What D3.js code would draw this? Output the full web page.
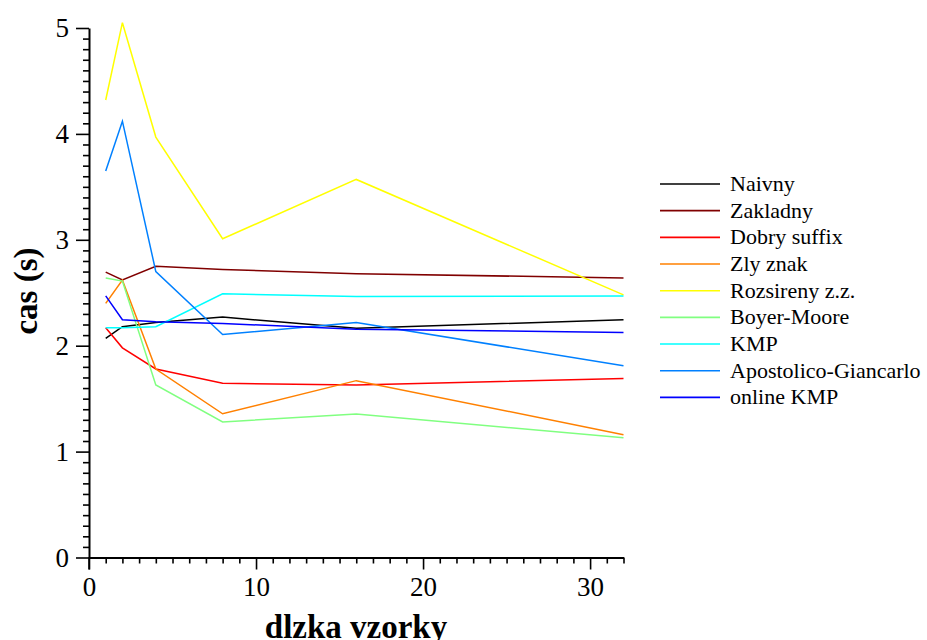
<!DOCTYPE html>
<html>
<head>
<meta charset="utf-8">
<script src="https://cdn.jsdelivr.net/npm/d3@7"></script>
<style>
  html, body { margin: 0; padding: 0; background: #fff; }
  svg { display: block; }
  svg text { font-family: 'Liberation Serif', 'Times New Roman', Times, 'DejaVu Serif', serif !important; fill: #000; }
</style>
</head>
<body>
<svg id="chart" width="927" height="640"></svg>
<script>
// Pattern lengths (x) and search time in seconds for each algorithm
const patternLengths = [1, 2, 4, 8, 16, 32];

const seriesNames = [
  "Naivny", "Zakladny", "Dobry suffix", "Zly znak", "Rozsireny z.z.",
  "Boyer-Moore", "KMP", "Apostolico-Giancarlo", "online KMP"
];
const seriesColors = [
  "#000000", "#800000", "#ff0000", "#ff8000", "#ffff00",
  "#80ff80", "#00ffff", "#0080ff", "#0000ff"
];

const naivny      = [2.07, 2.18, 2.22, 2.27, 2.165, 2.245];
const zakladny    = [2.695, 2.62, 2.75, 2.72, 2.68, 2.64];
const dobrySuffix = [2.17, 1.98, 1.78, 1.645, 1.63, 1.69];
const zlyZnak     = [2.40, 2.62, 1.78, 1.357, 1.67, 1.16];
const rozsireny   = [4.32, 5.05, 3.97, 3.01, 3.57, 2.48];
const boyerMoore  = [2.64, 2.61, 1.63, 1.28, 1.355, 1.13];
const kmp         = [2.17, 2.17, 2.18, 2.49, 2.465, 2.47];
const apostolico  = [3.65, 4.12, 2.70, 2.105, 2.22, 1.81];
const onlineKmp   = [2.47, 2.245, 2.225, 2.21, 2.155, 2.125];

const seriesValues = [naivny, zakladny, dobrySuffix, zlyZnak, rozsireny,
                      boyerMoore, kmp, apostolico, onlineKmp];

const xMajorTicks = [0, 10, 20, 30];
const yMajorTicks = [0, 1, 2, 3, 4, 5];

const xTitle = "dlzka vzorky";
const yTitle = "cas (s)";

const svg = d3.select("#chart");

const x = d3.scaleLinear().domain([0, 32]).range([89, 623.5]);
const y = d3.scaleLinear().domain([0, 5]).range([557.5, 28]);

// Minor ticks: every 1 on x, every 0.1 on y
const xMinor = d3.range(0, 33, 1).filter(v => v % 10 !== 0);
const yMinor = d3.range(0, 51, 1).map(v => v / 10).filter(v => Math.abs(v - Math.round(v)) > 1e-9);

// Series lines
const line = d3.line()
  .x((d, i) => x(patternLengths[i]))
  .y(d => y(d));

const lines = svg.append("g");
seriesValues.forEach((vals, k) => {
  lines.append("path")
    .datum(vals)
    .attr("fill", "none")
    .attr("stroke", seriesColors[k])
    .attr("stroke-width", 1.5)
    .attr("d", line);
});

// Axes
function styleAxis(g) {
  g.attr("font-family", null);
  g.selectAll("path.domain").attr("stroke", "#000").attr("stroke-width", 2);
  g.selectAll(".tick line").attr("stroke", "#000").attr("stroke-width", 1.6);
}

const fmt = d3.format("d");

const xAxisMinor = svg.append("g")
  .attr("transform", `translate(0,${y(0)})`)
  .call(d3.axisBottom(x).tickValues(xMinor).tickSize(6).tickSizeOuter(0).tickFormat(""));
styleAxis(xAxisMinor);

const xAxis = svg.append("g")
  .attr("transform", `translate(0,${y(0)})`)
  .call(d3.axisBottom(x).tickValues(xMajorTicks).tickSize(12).tickSizeOuter(0).tickFormat(fmt));
styleAxis(xAxis);
xAxis.selectAll("path.domain").remove();
xAxis.selectAll(".tick text")
  .attr("font-size", 27)
  .attr("fill", "#000")
  .attr("y", 38).attr("dy", 0);

const yAxisMinor = svg.append("g")
  .attr("transform", `translate(${x(0)},0)`)
  .call(d3.axisLeft(y).tickValues(yMinor).tickSize(6).tickSizeOuter(0).tickFormat(""));
styleAxis(yAxisMinor);

const yAxis = svg.append("g")
  .attr("transform", `translate(${x(0)},0)`)
  .call(d3.axisLeft(y).tickValues(yMajorTicks).tickSize(13).tickSizeOuter(0).tickPadding(7).tickFormat(fmt));
styleAxis(yAxis);
yAxis.selectAll("path.domain").remove();
yAxis.selectAll(".tick text")
  .attr("font-size", 27)
  .attr("fill", "#000")
  .attr("dy", "0.33em");

// y-axis line continues down to the end of the x=0 major tick
svg.append("line")
  .attr("x1", x(0)).attr("x2", x(0))
  .attr("y1", y(0)).attr("y2", y(0) + 12)
  .attr("stroke", "#000").attr("stroke-width", 1.6);

// Axis titles
svg.append("text")
  .attr("x", 356).attr("y", 638)
  .attr("text-anchor", "middle")
  .attr("font-size", 33)
  .attr("font-weight", "bold")
  .text(xTitle);

svg.append("text")
  .attr("transform", "translate(37,291) rotate(-90)")
  .attr("text-anchor", "middle")
  .attr("font-size", 33)
  .attr("font-weight", "bold")
  .text(yTitle);

// Legend
const legend = svg.append("g").attr("transform", "translate(660,184)");
seriesNames.forEach((name, k) => {
  const row = legend.append("g").attr("transform", `translate(0,${k * 26.67})`);
  row.append("line")
    .attr("x1", 0).attr("x2", 60)
    .attr("y1", 0).attr("y2", 0)
    .attr("stroke", seriesColors[k])
    .attr("stroke-width", 1.6);
  row.append("text")
    .attr("x", 70).attr("y", 7)
    .attr("font-size", 22)
    .text(name);
});
</script>
</body>
</html>
